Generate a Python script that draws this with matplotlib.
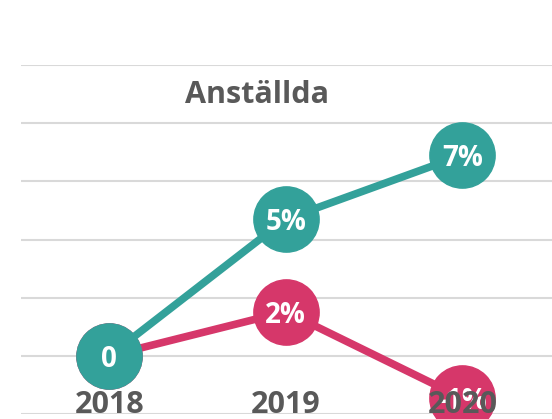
import numpy as np
import matplotlib.pyplot as plt

# data
years = ['2018', '2019', '2020']
teal_vals = [0.0, 0.047, 0.069]
pink_vals = [0.0, 0.0152, -0.0145]
teal_labels = ['0', '5%', '7%']
pink_labels = ['', '2%', '-1%']
title = 'Anställda'

teal = '#33A19A'
pink = '#D6376A'
grey = '#595959'
font = 'Open Sans'

fig = plt.figure(figsize=(5.52, 4.19), dpi=100)
ax = fig.add_axes([21 / 552, 5 / 419, 531 / 552, 349 / 419])

x = np.arange(len(years))

ax.plot(x, pink_vals, color=pink, lw=5.5, marker='o', ms=47, mec=pink,
        mfc=pink, zorder=2.0, clip_on=False, solid_capstyle='butt')
ax.plot(x, teal_vals, color=teal, lw=5.5, marker='o', ms=47, mec=teal,
        mfc=teal, zorder=2.1, clip_on=False, solid_capstyle='butt')

for xi, v, lab in zip(x, pink_vals, pink_labels):
    ax.text(xi, v, lab, ha='center', va='center_baseline', color='white',
            fontsize=20, fontweight='bold', family=font, zorder=2.2)
for xi, v, lab in zip(x, teal_vals, teal_labels):
    ax.text(xi, v, lab, ha='center', va='center_baseline', color='white',
            fontsize=20, fontweight='bold', family=font, zorder=2.3)

# category labels sit inside the plot, on top of the markers
for xi, yr in zip(x, years):
    ax.text(xi, 0.003, yr, transform=ax.get_xaxis_transform(), ha='center',
            va='baseline', color=grey, fontsize=22, fontweight='bold',
            family=font, zorder=2.6)

ax.set_xlim(-0.5, 2.508)
ax.set_ylim(-0.02, 0.10)
ax.set_yticks(np.arange(-0.02, 0.101, 0.02))
ax.set_xticks([])
ax.yaxis.grid(True, color='#D9D9D9', lw=1.5)
ax.set_axisbelow(True)
ax.tick_params(axis='y', length=0, labelleft=False)
for s in ax.spines.values():
    s.set_visible(False)

fig.text(256.7 / 552, (419 - 103.3) / 419, title, ha='center', va='baseline',
         color=grey, fontsize=22, fontweight='bold', family=font)

fig.savefig('out.png', dpi=100)
